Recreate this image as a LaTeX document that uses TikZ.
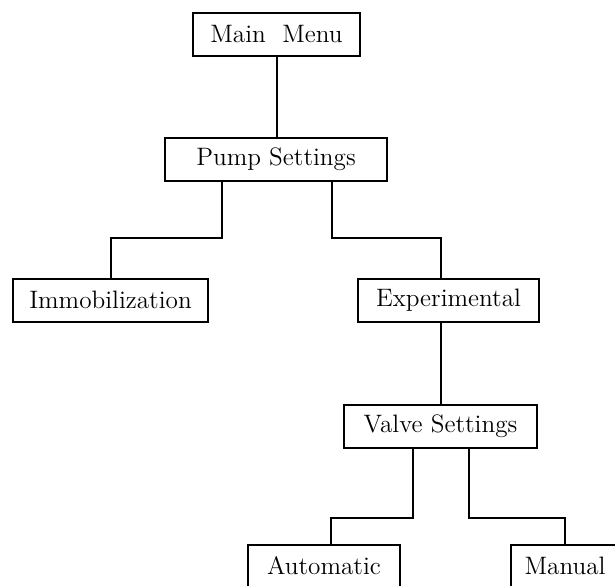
\documentclass[tikz,border=0pt]{standalone}
\usepackage{tikz}
\usetikzlibrary{arrows.meta}
\tikzset{%
    menubox/.style={%
        draw, line width=1pt, inner sep=0pt,
        minimum width=#1, minimum height=21.5pt,
        font=\fontsize{12.6}{15}\selectfont
    },
    link/.style={line width=1pt}
}

\begin{document}
\begin{tikzpicture}[x=0.5pt,y=-0.5pt]
	\useasboundingbox (0,0) rectangle (615,585);
	\clip (0,0) rectangle (615,585);
	\node[menubox=83.5pt] (main)   at (276.5,34)  {Main~ Menu};
	\node[menubox=111pt]  (pump)   at (276,159.5) {Pump Settings};
	\node[menubox=97.5pt] (immob)  at (110.5,300) {Immobilization};
	\node[menubox=90.5pt] (exper)  at (448.5,300) {Experimental};
	\node[menubox=96.5pt] (valve)  at (440.5,426.5) {Valve Settings};
	\node[menubox=76pt]   (auto)   at (324,566)   {Automatic};
	\node[menubox=54pt]   (manual) at (565,566)   {Manual};
%\draw[thick] (0,0) rectangle (615,585);
	\draw[link] (main.south) -- (main.south |- pump.north);
	\draw[link] ([xshift=-27pt]pump.south) -- ++(0,56) -| (immob.north);
	\draw[link] ([xshift=28pt]pump.south) -- ++(0,56) -| ([xshift=-3.75pt]exper.north);
	\draw[link] (exper.south -| valve.north) -- (valve.north);
	\draw[link] ([xshift=-14pt]valve.south) -- ++(0,69) -| ([xshift=3.5pt]auto.north);
	\draw[link] ([xshift=14pt]valve.south) -- ++(0,69) -| (manual.north);
\end{tikzpicture}
\end{document}
